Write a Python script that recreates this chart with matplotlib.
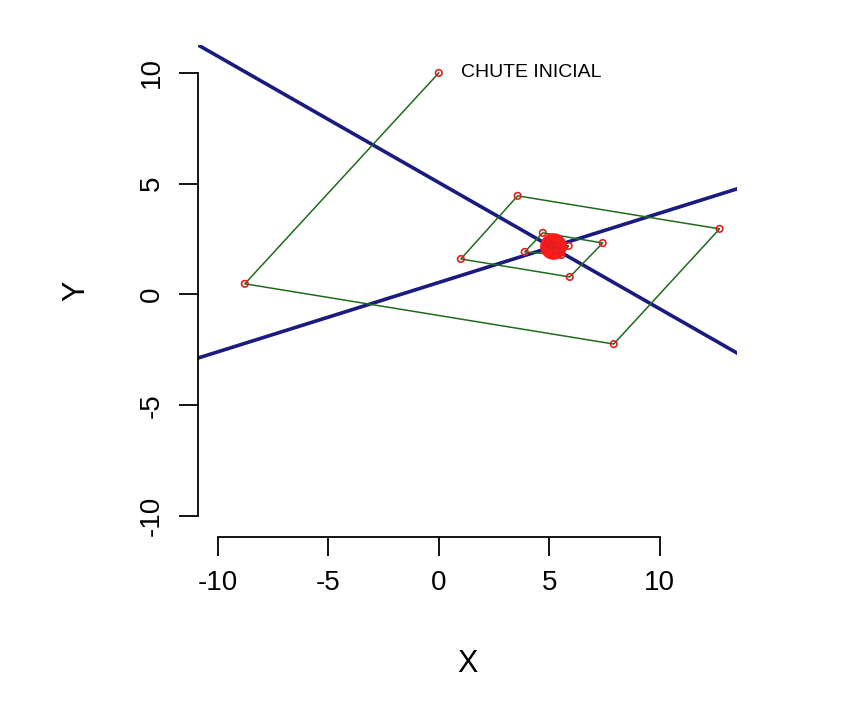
import matplotlib
matplotlib.use("Agg")
import matplotlib.pyplot as plt

plt.rcParams["font.family"] = ["Liberation Sans", "DejaVu Sans"]
plt.rcParams["axes.unicode_minus"] = False

# iterates (x, y)
iter_x = [0.0, -8.78, 7.92, 12.71, 3.57, 1.00, 5.93, 7.42, 4.71, 3.89, 5.55, 5.88, 4.95, 4.80, 5.30, 5.40, 5.05, 5.16]
iter_y = [10.0, 0.48, -2.24, 2.96, 4.45, 1.60, 0.79, 2.32, 2.78, 1.92, 1.78, 2.19, 2.36, 2.05, 1.98, 2.22, 2.25, 2.19]
sol_x, sol_y = 5.16, 2.19

# lines y = a + b*x
line1 = (5.05, -0.57)
line2 = (0.54, 0.313)

fig = plt.figure(figsize=(8.44, 7.18), dpi=100)
ax = fig.add_axes([198 / 844, 1 - 537 / 718, (737 - 198) / 844, (537 - 45) / 718])
xlim = (-10.9, 13.5)
ylim = (-10.95, 11.26)

for a, b in (line1, line2):
    ax.plot(xlim, [a + b * xlim[0], a + b * xlim[1]], color="#1a1a80", lw=2.6, zorder=2)

ax.plot(iter_x, iter_y, color="#1e6b1e", lw=1.1, zorder=3)
ax.scatter(iter_x, iter_y, s=22, facecolors="none", edgecolors="#e02020", lw=1.2, zorder=4)
ax.scatter([sol_x], [sol_y], s=330, color="#ff1a1a", zorder=3.5)
ax.text(1.0, 10.0, "CHUTE INICIAL", fontsize=14, va="center", ha="left")

ax.set_xlim(xlim)
ax.set_ylim(ylim)
for s in ("top", "right"):
    ax.spines[s].set_visible(False)
ax.spines["left"].set_bounds(-10, 10)
ax.spines["bottom"].set_bounds(-10, 10)
ax.set_xticks([-10, -5, 0, 5, 10])
ax.set_yticks([-10, -5, 0, 5, 10])
ax.set_yticklabels(["-10", "-5", "0", "5", "10"], rotation=90, va="center")
ax.tick_params(labelsize=20, length=14, width=1.3, pad=10)
ax.spines["left"].set_linewidth(1.3)
ax.spines["bottom"].set_linewidth(1.3)
ax.set_xlabel("X", fontsize=22, labelpad=38)
ax.set_ylabel("Y", fontsize=22, labelpad=34)

fig.savefig("out.png", dpi=100)
